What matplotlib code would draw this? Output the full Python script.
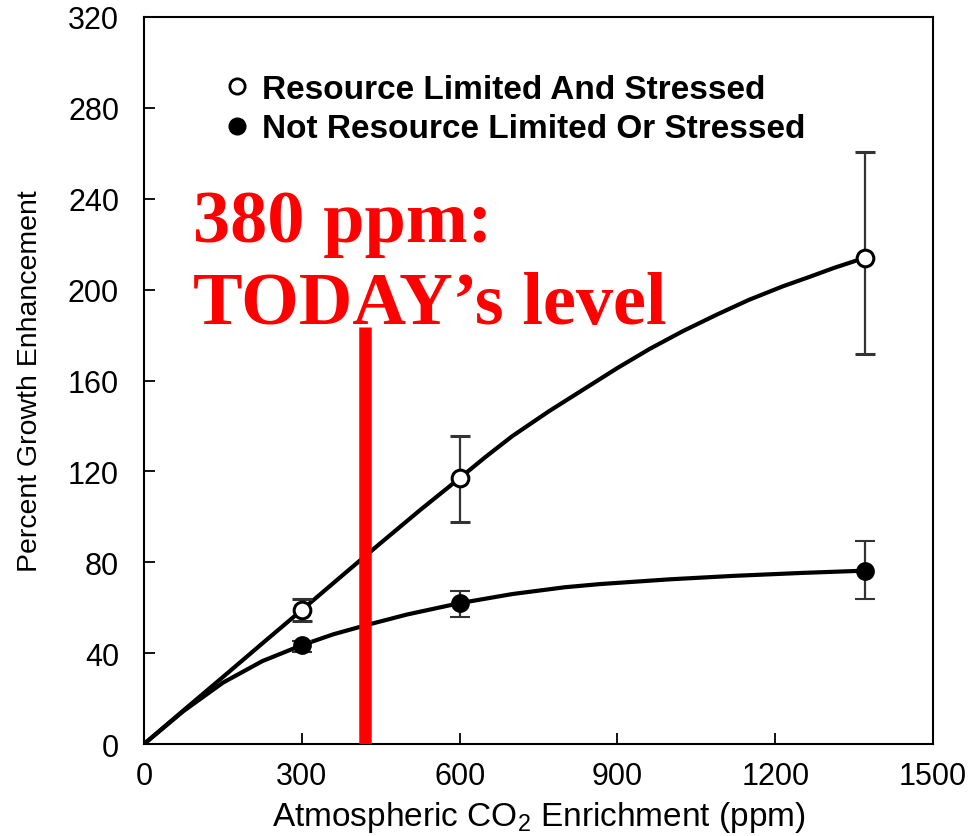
#!/usr/bin/env python3

import matplotlib
matplotlib.use("Agg")
import matplotlib.pyplot as plt
from matplotlib.lines import Line2D

# =========================================================
# DATA
# =========================================================
co2_points = [300, 600, 1370]

stressed_y = [59, 117, 214]
stressed_lo = [54.3, 97.7, 171.6]
stressed_hi = [63.8, 135.7, 260.5]

unstressed_y = [43.5, 62, 76.3]
unstressed_lo = [40.5, 55.9, 63.8]
unstressed_hi = [45.5, 67.5, 89.5]

# fitted curves, traced by eye
stressed_curve_x = [0, 75, 150, 225, 300, 375, 450, 525, 600, 650, 700, 770, 835,
                    900, 962, 1025, 1089, 1150, 1215, 1265, 1311, 1370]
stressed_curve_y = [0, 14.8, 29.5, 44.3, 59, 73.8, 88.5, 103, 117, 126.5, 135.5,
                    146.5, 156, 165.5, 174, 181.8, 189, 195.5, 201.5, 205.6, 209.5, 214]

unstressed_curve_x = [0, 75, 150, 225, 300, 360, 422, 500, 600, 700, 800, 867,
                      1000, 1120, 1250, 1370]
unstressed_curve_y = [0, 14.5, 27, 36.5, 43.5, 48.3, 52.3, 57, 62, 66, 69, 70.4,
                      72.5, 74, 75.3, 76.3]

legend_labels = ["Resource Limited And Stressed", "Not Resource Limited Or Stressed"]

today_x = 420
today_top = 183.5
today_label = "380 ppm:\nTODAY\u2019s level"

x_ticks = [0, 300, 600, 900, 1200, 1500]
y_ticks = [0, 40, 80, 120, 160, 200, 240, 280, 320]

# =========================================================
plt.rcParams.update({
    "font.family": ["Liberation Sans", "DejaVu Sans"],
    "mathtext.fontset": "custom",
    "mathtext.rm": "Liberation Sans",
    "axes.linewidth": 1.5,
})


def err(vals, lo, hi):
    return [[v - l for v, l in zip(vals, lo)], [h - v for v, h in zip(vals, hi)]]


fig = plt.figure(figsize=(9.70, 8.37), dpi=100)
ax = fig.add_axes([0.1485, 0.1099, 0.8134, 0.8686])

ax.plot(stressed_curve_x, stressed_curve_y, color="black", lw=3.0, zorder=2,
        solid_capstyle="round", solid_joinstyle="round")
ax.plot(unstressed_curve_x, unstressed_curve_y, color="black", lw=3.0, zorder=2,
        solid_capstyle="round", solid_joinstyle="round")

ax.errorbar(co2_points, stressed_y, yerr=err(stressed_y, stressed_lo, stressed_hi),
            fmt="o", ms=12, mfc="white", mec="black", mew=2.2,
            ecolor="#333333", elinewidth=1.6, capsize=7, capthick=1.6, zorder=3)
ax.errorbar(co2_points, unstressed_y, yerr=err(unstressed_y, unstressed_lo, unstressed_hi),
            fmt="o", ms=12, mfc="black", mec="black", mew=1.5,
            ecolor="#333333", elinewidth=1.6, capsize=7, capthick=1.6, zorder=3)

# today's level marker
ax.vlines(today_x, 0, today_top, color="#ff0000", lw=9, zorder=5)
ax.text(93, 185.5, today_label, color="#ff0000", fontsize=53.5, fontweight="bold",
        family=["Liberation Serif", "DejaVu Serif"], ha="left", va="baseline",
        linespacing=1.26, zorder=6)

handles = [
    Line2D([], [], ls="none", marker="o", ms=11, mfc="white", mec="black", mew=2),
    Line2D([], [], ls="none", marker="o", ms=12, mfc="black", mec="black"),
]
ax.legend(handles, legend_labels, loc="upper left", bbox_to_anchor=(0.105, 0.922),
          frameon=False, handlelength=0.6, handletextpad=0.45, labelspacing=0.26,
          prop={"size": 24, "weight": "bold"}, borderaxespad=0, borderpad=0)

ax.set_xlim(0, 1500)
ax.set_ylim(0, 320)
ax.set_xticks(x_ticks)
ax.set_yticks(y_ticks)
ax.tick_params(axis="both", direction="in", length=8, width=1.3, labelsize=22)
ax.tick_params(axis="y", pad=18)
ax.tick_params(axis="x", pad=12)

ax.set_xlabel(r"Atmospheric CO$_\mathregular{2}$ Enrichment (ppm)", fontsize=24,
              labelpad=6)
ax.set_ylabel("Percent Growth Enhancement", fontsize=20.5, labelpad=18)

fig.savefig("out.png", dpi=100)
